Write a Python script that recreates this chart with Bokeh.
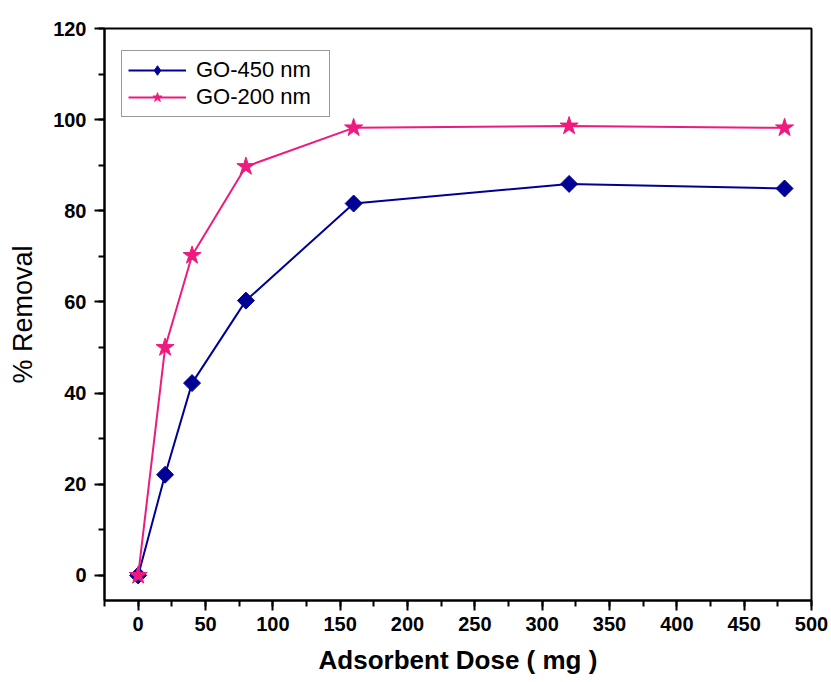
import math
from bokeh.plotting import figure
from bokeh.models import Range1d, SingleIntervalTicker, Legend, LegendItem
from bokeh.embed import file_html
from bokeh.resources import INLINE

dose = [0, 20, 40, 80, 160, 320, 480]
go450 = [0, 22.1, 42.2, 60.3, 81.6, 85.9, 84.9]
go200 = [0, 50.0, 70.2, 89.7, 98.2, 98.6, 98.2]

x_ticks_interval = 50
y_ticks_interval = 20

BLUE = "#000096"
PINK = "#EE1A7E"

p = figure(width=830, height=681, output_backend="svg", toolbar_location=None,
           x_range=Range1d(-25, 500), y_range=Range1d(-5.5, 120),
           min_border_left=104, min_border_right=19, min_border_top=28, min_border_bottom=81)
p.grid.visible = False
p.outline_line_color = "black"
p.outline_line_width = 2
p.background_fill_color = "white"
p.border_fill_color = "white"

p.xaxis.ticker = SingleIntervalTicker(interval=x_ticks_interval, num_minor_ticks=2)
p.yaxis.ticker = SingleIntervalTicker(interval=y_ticks_interval, num_minor_ticks=2)

for ax in (p.xaxis, p.yaxis):
    ax.axis_line_width = 2
    ax.axis_line_color = "black"
    ax.major_tick_line_width = 2
    ax.minor_tick_line_width = 2
    ax.major_tick_in = 0
    ax.major_tick_out = 10
    ax.minor_tick_in = 0
    ax.minor_tick_out = 6
    ax.major_label_text_font = "Liberation Sans"
    ax.major_label_text_font_style = "bold"
    ax.major_label_text_font_size = "20px"
    ax.major_label_text_color = "black"
    ax.axis_label_text_font = "Liberation Sans"
    ax.axis_label_text_color = "black"

p.xaxis.major_label_standoff = 6
p.yaxis.major_label_standoff = 8
p.xaxis.axis_label = "Adsorbent Dose ( mg )"
p.xaxis.axis_label_text_font_style = "bold"
p.xaxis.axis_label_text_font_size = "26px"
p.xaxis.axis_label_standoff = 11
p.yaxis.axis_label = "% Removal"
p.yaxis.axis_label_text_font_style = "normal"
p.yaxis.axis_label_text_font_size = "27px"
p.yaxis.axis_label_standoff = 12

l1 = p.line(dose, go450, line_color=BLUE, line_width=2)
s1 = p.scatter(dose, go450, marker="square", angle=math.pi / 4, size=12,
               fill_color=BLUE, line_color=BLUE)
l2 = p.line(dose, go200, line_color=PINK, line_width=2)
s2 = p.scatter(dose, go200, marker="star", size=19, fill_color=PINK, line_color=PINK)

# legend-only marker (not drawn on the plot) so the legend shows a diamond
nan = float("nan")
s1_leg = p.scatter(x=[nan], y=[nan], marker="diamond", size=17, fill_color=BLUE, line_color=BLUE)

legend = Legend(items=[LegendItem(label="GO-450 nm", renderers=[l1, s1_leg]),
                       LegendItem(label="GO-200 nm", renderers=[l2, s2])],
                location=(17, 483))
legend.label_text_font = "Liberation Sans"
legend.label_text_font_size = "22px"
legend.label_text_color = "black"
legend.label_height = 22
legend.label_width = 127
legend.glyph_height = 24
legend.glyph_width = 58
legend.label_standoff = 10
legend.spacing = 1
legend.padding = 6
legend.margin = 0
legend.border_line_color = "#333333"
legend.border_line_width = 1
legend.background_fill_color = "white"
legend.background_fill_alpha = 1
p.add_layout(legend, "center")

open("out.html", "w").write(file_html(p, INLINE))
